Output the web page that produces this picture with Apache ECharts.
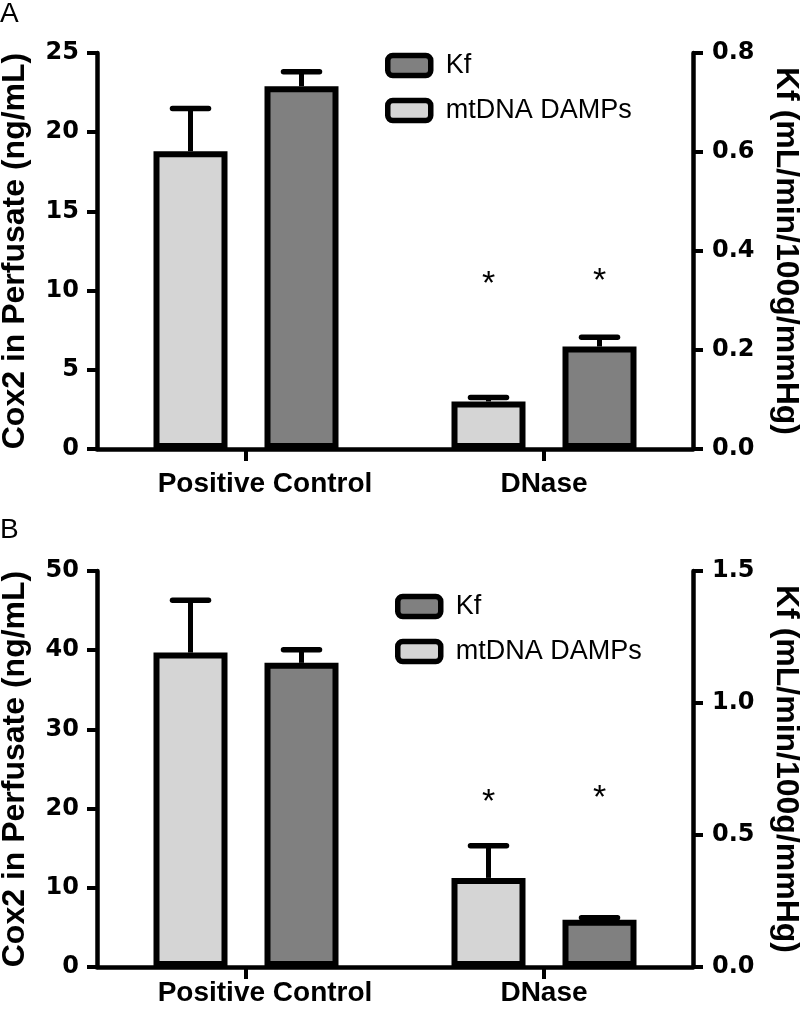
<!DOCTYPE html>
<html>
<head>
<meta charset="utf-8">
<script src="https://cdn.jsdelivr.net/npm/echarts@6/dist/echarts.min.js"></script>
<style>
html,body{margin:0;padding:0;background:#fff;}
#chart{width:800px;height:1009px;}
</style>
</head>
<body>
<div id="chart"></div>
<script>
// ---- Data ----
const categories = ['Positive Control', 'DNase'];
const legendNames = ['Kf', 'mtDNA DAMPs'];

// Panel A
const aMtdna = [18.8, 3.0];
const aMtdnaErr = [2.7, 0.25];
const aKf = [0.733, 0.207];
const aKfErr = [0.029, 0.019];
const aStarMtdna = [null, 11.0];   // asterisk height (left axis units)
const aStarKf = [null, 11.2];
const aLeftTicks = [0, 25, 5];
const aRightTicks = [0, 0.8, 0.2];

// Panel B
const bMtdna = [39.7, 11.25];
const bMtdnaErr = [6.6, 4.05];
const bKf = [1.152, 0.179];
const bKfErr = [0.05, 0.008];
const bStarMtdna = [null, 22.0];
const bStarKf = [null, 22.5];
const bLeftTicks = [0, 50, 10];
const bRightTicks = [0, 1.5, 0.5];

const leftTitle = 'Cox2 in Perfusate (ng/mL)';
const rightTitle = 'Kf (mL/min/100g/mmHg)';

// ---- Styles ----
const FONT = '"Liberation Sans", Arial, Helvetica, sans-serif';
const TICKFONT = '"DejaVu Sans", "Liberation Sans", sans-serif';
const LIGHT = '#d5d5d5';
const DARK = '#808080';
const BAR_W = 74;
const BAR_GAP = 37;
const BAR_OFF = (BAR_W + BAR_GAP) / 2;

function makeXAxis(gridIndex, labelMargin) {
  return {
    type: 'category', gridIndex: gridIndex, data: categories,
    axisLine: { lineStyle: { color: '#000', width: 4.5 } },
    axisTick: { show: false },
    axisLabel: {
      interval: 0, color: '#000', fontFamily: FONT, fontWeight: 'bold', fontSize: 28, margin: labelMargin,
      formatter: function (v, i) { return i === 0 ? '{pc|' + v + '}' : v; },
      rich: { pc: { fontFamily: FONT, fontWeight: 'bold', fontSize: 28, color: '#000', padding: [0, 0, 0, 38] } }
    },
    splitLine: { show: false }
  };
}
function makeYAxis(gridIndex, ticks, pos, name, decimals) {
  const isRight = pos === 'right';
  return {
    type: 'value', gridIndex: gridIndex, position: pos,
    min: ticks[0], max: ticks[1], interval: ticks[2],
    name: name, nameLocation: 'middle',
    nameGap: isRight ? 77 : 66,
    nameMoveOverlap: false,
    nameRotate: isRight ? -90 : 90,
    nameTextStyle: { color: '#000', fontFamily: FONT, fontWeight: 'bold', fontSize: 32 },
    axisLine: { show: true, lineStyle: { color: '#000', width: 4.5 } },
    axisTick: { show: true, length: 10, lineStyle: { color: '#000', width: 4 } },
    axisLabel: {
      color: '#000', fontFamily: TICKFONT, fontWeight: 'bold', fontSize: 24,
      margin: isRight ? 19 : 18,
      formatter: function (v) { return v.toFixed(decimals); }
    },
    splitLine: { show: false }
  };
}
// category ticks at band centres, placed through the axis scales
function catTickSeries(xi) {
  return {
    type: 'custom', name: 'cat ticks', xAxisIndex: xi, yAxisIndex: xi * 2, z: 6,
    silent: true, clip: false,
    data: categories.map(function (c, i) { return [i, 0]; }),
    encode: { x: 0, y: 1 },
    renderItem: function (params, api) {
      const p = api.coord([api.value(0), api.value(1)]);
      return {
        type: 'line',
        shape: { x1: p[0], y1: p[1], x2: p[0], y2: p[1] + 12 },
        style: { stroke: '#000', lineWidth: 4 }
      };
    }
  };
}
function errSeries(name, xi, yi, vals, errs, sign) {
  return {
    type: 'custom', name: name + ' err', xAxisIndex: xi, yAxisIndex: yi, z: 5,
    data: vals.map(function (v, i) { return [i, v, errs[i]]; }),
    encode: { x: 0, y: 1 },
    renderItem: function (params, api) {
      const c = api.value(0), v = api.value(1), e = api.value(2);
      const p0 = api.coord([c, v]);
      const p1 = api.coord([c, v + e]);
      const x = p0[0] + sign * BAR_OFF;
      return {
        type: 'group',
        children: [
          { type: 'line', shape: { x1: x, y1: p0[1], x2: x, y2: p1[1] }, style: { stroke: '#000', lineWidth: 5 } },
          { type: 'line', shape: { x1: x - 18, y1: p1[1], x2: x + 18, y2: p1[1] }, style: { stroke: '#000', lineWidth: 5.5, lineCap: 'round' } }
        ]
      };
    }
  };
}
function starSeries(xi, vals, sign) {
  return {
    type: 'custom', name: 'star', xAxisIndex: xi, yAxisIndex: xi * 2, z: 6,
    data: vals.map(function (v, i) { return [i, v]; }).filter(function (d) { return d[1] != null; }),
    encode: { x: 0, y: 1 },
    renderItem: function (params, api) {
      const p = api.coord([api.value(0), api.value(1)]);
      return {
        type: 'text',
        style: { text: '*', x: p[0] + sign * BAR_OFF, y: p[1] + 10, align: 'center', verticalAlign: 'middle',
                 font: '34px ' + FONT, fill: '#000' }
      };
    }
  };
}
function barSeries(name, xi, yi, vals, color) {
  return {
    type: 'bar', name: name, xAxisIndex: xi, yAxisIndex: yi, data: vals,
    barWidth: BAR_W, barGap: '50%',
    itemStyle: { color: color, borderColor: '#000', borderWidth: 6 },
    z: 2
  };
}
function makeLegend(left, top) {
  return {
    data: legendNames, orient: 'vertical', left: left, top: top,
    itemWidth: 43, itemHeight: 20, itemGap: 18,
    selectedMode: false,
    itemStyle: { borderColor: '#000', borderWidth: 5.5 },
    textStyle: { color: '#000', fontFamily: FONT, fontSize: 27, padding: [0, 0, 0, 10] }
  };
}

const option = {
  animation: false,
  backgroundColor: '#fff',
  graphic: [
    { type: 'text', left: 0, top: 0, style: { text: 'A', font: '28px ' + FONT, fill: '#000' } },
    { type: 'text', left: 0, top: 516, style: { text: 'B', font: '28px ' + FONT, fill: '#000' } }
  ],
  legend: [makeLegend(380, 47), makeLegend(390, 588)],
  grid: [
    { left: 97, top: 53, width: 596, height: 396, outerBoundsMode: 'none', containLabel: false },
    { left: 97, top: 571, width: 596, height: 396, outerBoundsMode: 'none', containLabel: false }
  ],
  xAxis: [makeXAxis(0, 21), makeXAxis(1, 12)],
  yAxis: [
    makeYAxis(0, aLeftTicks, 'left', leftTitle, 0),
    makeYAxis(0, aRightTicks, 'right', rightTitle, 1),
    makeYAxis(1, bLeftTicks, 'left', leftTitle, 0),
    makeYAxis(1, bRightTicks, 'right', rightTitle, 1)
  ],
  series: [
    barSeries('mtDNA DAMPs', 0, 0, aMtdna, LIGHT),
    barSeries('Kf', 0, 1, aKf, DARK),
    errSeries('mtDNA DAMPs', 0, 0, aMtdna, aMtdnaErr, -1),
    errSeries('Kf', 0, 1, aKf, aKfErr, 1),
    starSeries(0, aStarMtdna, -1),
    starSeries(0, aStarKf, 1),
    catTickSeries(0),
    barSeries('mtDNA DAMPs', 1, 2, bMtdna, LIGHT),
    barSeries('Kf', 1, 3, bKf, DARK),
    errSeries('mtDNA DAMPs', 1, 2, bMtdna, bMtdnaErr, -1),
    errSeries('Kf', 1, 3, bKf, bKfErr, 1),
    starSeries(1, bStarMtdna, -1),
    starSeries(1, bStarKf, 1),
    catTickSeries(1)
  ]
};

const chart = echarts.init(document.getElementById('chart'), null, { renderer: 'canvas' });
chart.setOption(option);
</script>
</body>
</html>
